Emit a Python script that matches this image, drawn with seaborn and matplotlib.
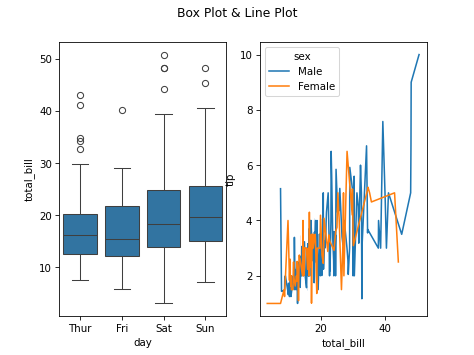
import numpy as np
import pandas as pd
import matplotlib

matplotlib.use("Agg")
import matplotlib.pyplot as plt
import seaborn as sns

# ===================== 1. 数据 =====================
days = ["Thur", "Fri", "Sat", "Sun"]

# total_bill by day (box plot)
box_thur = [7.51, 8.6, 9.8, 10.3, 11.2, 12.0, 12.5, 13.0, 13.8, 14.5, 15.0, 15.6, 16.2,
            16.9, 17.5, 18.3, 18.8, 19.5, 20.2, 29.8, 32.68, 34.3, 34.83, 41.19, 43.11]
box_fri = [5.75, 10.1, 12.09, 13.4, 15.38, 18.3, 21.75, 28.97, 40.17]
box_sat = [3.07, 7.7, 9.5, 10.6, 12.2, 13.9, 14.8, 15.7, 16.4, 17.1, 18.24, 19.0, 20.3,
           21.5, 23.1, 24.74, 39.42, 44.3, 48.27, 48.33, 50.81]
box_sun = [7.25, 10.3, 12.9, 14.99, 16.2, 17.9, 19.63, 21.0, 23.3, 25.6, 40.55, 45.35, 48.17]

# total_bill / tip by sex (line plot)
male_bill = [10.34, 21.01, 23.68, 25.29, 8.77, 26.88, 15.04, 14.78, 10.27, 15.42, 18.43, 21.58,
             16.29, 20.65, 17.92, 39.42, 19.82, 17.81, 13.37, 12.69, 21.70, 9.55, 18.35, 17.78,
             24.06, 16.31, 18.69, 31.27, 16.04, 17.46, 13.94, 9.68, 30.40, 18.29, 22.23, 32.40,
             28.55, 18.04, 12.54, 9.94, 25.56, 19.49, 38.01, 11.24, 48.27, 20.29, 13.81, 11.02,
             18.29, 17.59, 20.08, 20.23, 15.01, 12.02, 10.51, 17.92, 27.20, 22.76, 17.29, 19.44,
             16.66, 32.68, 15.98, 13.03, 18.28, 24.71, 21.16, 28.97, 22.49, 40.17, 27.28, 12.03,
             21.01, 12.46, 15.36, 20.49, 25.21, 18.24, 14.00, 38.07, 23.95, 29.93, 11.69, 14.26,
             15.95, 8.52, 22.82, 19.08, 16.00, 34.30, 41.19, 9.78, 7.51, 14.07, 13.13, 17.26,
             24.55, 19.77, 48.17, 16.49, 21.50, 12.66, 13.81, 24.52, 20.76, 31.71, 50.81, 15.81,
             7.25, 31.85, 16.82, 32.90, 17.89, 14.48, 34.63, 34.65, 23.33, 45.35, 23.17, 40.55,
             20.69, 30.46, 23.10, 15.69, 28.44, 15.48, 16.58, 7.56, 10.34, 13.51, 18.71, 20.53,
             26.59, 38.73, 24.27, 30.06, 25.89, 48.33, 28.15, 11.59, 7.74, 12.16, 8.58, 13.42,
             20.45, 13.28, 24.01, 15.69, 11.61, 10.77, 15.53, 10.07, 12.60, 32.83, 29.03, 22.67,
             17.82]
male_tip = [1.66, 3.50, 3.31, 4.71, 2.00, 3.12, 1.96, 3.23, 1.71, 1.57, 3.00, 3.92,
            3.71, 3.35, 4.08, 7.58, 3.18, 2.34, 2.00, 2.00, 4.30, 1.45, 2.50, 3.27,
            3.60, 2.00, 2.31, 5.00, 2.24, 2.54, 3.06, 1.32, 5.60, 3.00, 5.00, 6.00,
            2.05, 3.00, 2.50, 1.56, 4.34, 3.51, 3.00, 1.76, 6.73, 3.21, 2.00, 1.98,
            3.76, 2.64, 3.15, 2.01, 2.09, 1.97, 1.25, 3.08, 4.00, 3.00, 2.71, 3.00,
            3.40, 5.00, 2.03, 2.00, 4.00, 5.85, 3.00, 3.00, 3.50, 4.73, 4.00, 1.50,
            3.00, 1.50, 1.64, 4.06, 4.29, 3.76, 3.00, 4.00, 2.55, 5.07, 2.31, 2.50,
            2.00, 1.48, 2.18, 1.50, 2.00, 6.70, 5.00, 1.73, 2.00, 2.50, 2.00, 2.74,
            2.00, 2.00, 5.00, 2.00, 3.50, 2.50, 2.00, 3.48, 2.24, 4.50, 10.00, 3.16,
            5.15, 3.18, 4.00, 3.11, 2.00, 2.00, 3.55, 3.68, 5.65, 3.50, 6.50, 3.00,
            5.00, 2.00, 4.00, 1.50, 2.56, 2.02, 4.00, 1.44, 2.00, 2.00, 4.00, 4.00,
            3.41, 3.00, 2.03, 2.00, 5.16, 9.00, 3.00, 1.50, 1.44, 2.20, 1.92, 1.58,
            3.00, 2.72, 2.00, 3.00, 3.39, 1.47, 3.00, 1.25, 1.00, 1.17, 5.92, 2.00,
            1.75]
female_bill = [16.99, 24.59, 35.26, 14.83, 10.33, 16.97, 20.29, 15.77, 19.65, 15.06, 20.69, 16.93,
               10.29, 34.81, 26.41, 16.45, 3.07, 17.07, 26.86, 25.28, 14.73, 10.07, 34.83, 5.75,
               16.32, 22.75, 11.35, 15.38, 44.30, 22.42, 20.92, 14.31, 7.25, 25.71, 17.31, 10.65,
               12.43, 24.08, 13.42, 12.48, 29.80, 14.52, 11.38, 20.27, 11.17, 12.26, 18.26, 8.51,
               10.33, 14.15, 13.16, 17.47, 27.05, 16.43, 8.35, 18.64, 11.87, 29.85, 25.00, 13.39,
               16.21, 17.51, 10.59, 10.63, 9.60, 20.90, 18.15, 19.81, 43.11, 13.00, 12.74, 13.00,
               16.40, 16.47, 12.76, 13.27, 28.17, 12.90, 30.14, 13.42, 15.98, 16.27, 10.09, 22.12,
               35.83, 27.18, 18.78]
female_tip = [1.01, 3.61, 5.00, 3.02, 1.67, 3.50, 2.75, 2.23, 3.00, 3.00, 2.45, 3.07,
              2.60, 5.20, 1.50, 2.47, 1.00, 3.00, 3.14, 5.00, 2.20, 1.83, 5.17, 1.00,
              4.30, 3.25, 2.50, 3.00, 2.50, 3.48, 4.08, 4.00, 1.00, 4.00, 3.50, 1.50,
              1.80, 2.92, 1.68, 2.52, 4.20, 2.00, 2.00, 2.83, 1.50, 2.00, 3.25, 1.25,
              2.00, 2.00, 2.75, 3.50, 5.00, 2.30, 1.50, 1.36, 1.63, 5.14, 3.75, 2.61,
              2.00, 3.00, 1.61, 2.00, 4.00, 3.50, 3.50, 4.19, 5.00, 2.00, 2.01, 2.00,
              2.50, 3.23, 2.23, 2.50, 6.50, 1.10, 3.09, 3.48, 3.00, 2.50, 2.00, 2.88,
              4.67, 2.00, 3.00]

# ===================== 2. 组装 DataFrame =====================
box_df = pd.DataFrame({
    "day": ["Thur"] * len(box_thur) + ["Fri"] * len(box_fri)
           + ["Sat"] * len(box_sat) + ["Sun"] * len(box_sun),
    "total_bill": box_thur + box_fri + box_sat + box_sun,
})
line_df = pd.DataFrame({
    "total_bill": male_bill + female_bill,
    "tip": male_tip + female_tip,
    "sex": ["Male"] * len(male_bill) + ["Female"] * len(female_bill),
})

# ===================== 3. 画图 =====================
fig, axes = plt.subplots(1, 2, figsize=(6.4, 4.8))
fig.suptitle("Box Plot & Line Plot")

sns.boxplot(data=box_df, x="day", y="total_bill", order=days, ax=axes[0])
sns.lineplot(data=line_df, x="total_bill", y="tip", hue="sex",
             hue_order=["Male", "Female"], seed=0, ax=axes[1])

plt.savefig("out.png", dpi=74.07)
plt.close()
